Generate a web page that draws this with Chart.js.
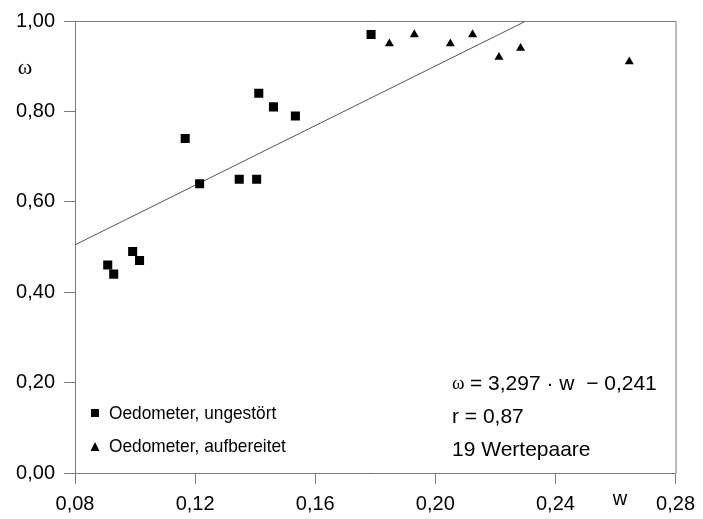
<!DOCTYPE html>
<html>
<head>
<meta charset="utf-8">
<script src="https://cdn.jsdelivr.net/npm/chart.js@4.4.1/dist/chart.umd.min.js"></script>
<style>
  body { margin: 0; background: #fff; }
  #wrap { width: 703px; height: 519px; }
</style>
</head>
<body>
<div id="wrap"><canvas id="chart" width="703" height="519"></canvas></div>
<script>
// Oedometer, ungestört (w, ω)
const undisturbedW = [0.0909, 0.0929, 0.0992, 0.1015, 0.1167, 0.1215, 0.1347, 0.1405, 0.1412, 0.1461, 0.1534, 0.1786];
const undisturbedOmega = [0.46, 0.44, 0.49, 0.47, 0.74, 0.64, 0.65, 0.65, 0.84, 0.81, 0.79, 0.97];

// Oedometer, aufbereitet (w, ω)
const remouldedW = [0.1847, 0.1930, 0.2050, 0.2124, 0.2212, 0.2284, 0.2646];
const remouldedOmega = [0.95, 0.97, 0.95, 0.97, 0.92, 0.94, 0.91];

// regression line
const slope = 3.297;
const intercept = 0.241;

const xTicks = [0.08, 0.12, 0.16, 0.20, 0.24, 0.28];
const yTicks = [0, 0.2, 0.4, 0.6, 0.8, 1.0];

const fmt = v => v.toFixed(2).replace(".", ",");
const fmt3 = v => v.toFixed(3).replace(".", ",");
const toPoints = (xs, ys) => xs.map((x, i) => ({ x: x, y: ys[i] }));

const lineStart = 0.08;
const lineEnd = (1 - intercept) / slope;
const fitLine = [lineStart, lineEnd].map(w => ({ x: w, y: slope * w + intercept }));

const FONT = "'Liberation Sans', Arial, Helvetica, sans-serif";
const SERIF = "'Liberation Serif', 'DejaVu Serif', serif";
const AXIS_GRAY = "#7a7a7a";

// narrow text: draws with a horizontal squeeze
function narrowText(ctx, text, x, y, sx) {
    ctx.save();
    ctx.translate(x, y);
    ctx.scale(sx, 1);
    ctx.fillText(text, 0, 0);
    ctx.restore();
}

// plot frame (top + right) and all free text
const extras = {
    id: "extras",
    afterDatasetsDraw(chart) {
        const { ctx, chartArea: a } = chart;
        ctx.save();
        ctx.strokeStyle = AXIS_GRAY;
        ctx.lineWidth = 1;
        ctx.beginPath();
        ctx.moveTo(a.left, a.top + 0.5);
        ctx.lineTo(a.right + 0.5, a.top + 0.5);
        ctx.lineTo(a.right + 0.5, a.bottom);
        ctx.stroke();
        ctx.restore();
    },
    afterDraw(chart) {
        const ctx = chart.ctx;
        ctx.save();
        ctx.fillStyle = "#000";
        ctx.textBaseline = "middle";

        // axis titles
        ctx.font = "22px " + SERIF;
        ctx.textAlign = "center";
        ctx.fillText("ω", 25, 68);
        ctx.font = "20px " + FONT;
        ctx.fillText("w", 620, 499);

        // legend
        ctx.textAlign = "left";
        ctx.fillRect(91, 409, 8, 8);
        ctx.beginPath();
        ctx.moveTo(95, 442);
        ctx.lineTo(99.5, 451);
        ctx.lineTo(90.5, 451);
        ctx.closePath();
        ctx.fill();
        ctx.font = "19px " + FONT;
        narrowText(ctx, "Oedometer, ungestört", 109, 414, 0.91);
        narrowText(ctx, "Oedometer, aufbereitet", 109, 447, 0.91);

        // regression info
        ctx.font = "19px " + SERIF;
        ctx.fillText("ω", 452, 384);
        ctx.font = "21px " + FONT;
        ctx.fillText("= " + fmt3(slope) + " · w  − " + fmt3(intercept), 470, 384);
        ctx.fillText("r = 0,87", 452, 417);
        ctx.fillText("19 Wertepaare", 452, 450);
        ctx.restore();
    }
};

new Chart(document.getElementById("chart"), {
    type: "scatter",
    data: {
        datasets: [
            {
                label: "Oedometer, ungestört",
                data: toPoints(undisturbedW, undisturbedOmega),
                pointStyle: "rect",
                pointRadius: 6.4,
                backgroundColor: "#000",
                borderColor: "#000",
                borderWidth: 0
            },
            {
                label: "Oedometer, aufbereitet",
                data: toPoints(remouldedW, remouldedOmega),
                pointStyle: "triangle",
                pointRadius: 5.2,
                backgroundColor: "#000",
                borderColor: "#000",
                borderWidth: 0
            },
            {
                label: "Regression",
                data: fitLine,
                showLine: true,
                pointRadius: 0,
                borderColor: "#555",
                borderWidth: 1
            }
        ]
    },
    options: {
        responsive: false,
        animation: false,
        layout: { padding: { top: 18, right: 23, left: 0, bottom: 0 } },
        plugins: {
            legend: { display: false },
            tooltip: { enabled: false }
        },
        scales: {
            x: {
                type: "linear",
                min: 0.08,
                max: 0.28,
                afterBuildTicks: s => { s.ticks = xTicks.map(v => ({ value: v })); },
                afterFit: s => { s.height = 46; },
                border: { color: AXIS_GRAY, width: 1 },
                grid: { drawOnChartArea: false, drawTicks: true, tickLength: 11, color: AXIS_GRAY },
                ticks: {
                    padding: 8,
                    color: "#000",
                    font: { family: FONT, size: 20 },
                    maxRotation: 0,
                    callback: v => fmt(v)
                }
            },
            y: {
                type: "linear",
                min: 0,
                max: 1,
                afterBuildTicks: s => { s.ticks = yTicks.map(v => ({ value: v })); },
                afterFit: s => { s.width = 75; },
                border: { color: AXIS_GRAY, width: 1 },
                grid: { drawOnChartArea: false, drawTicks: true, tickLength: 11, color: AXIS_GRAY },
                ticks: {
                    padding: 9,
                    color: "#000",
                    font: { family: FONT, size: 20 },
                    callback: v => fmt(v)
                }
            }
        }
    },
    plugins: [extras]
});
</script>
</body>
</html>
